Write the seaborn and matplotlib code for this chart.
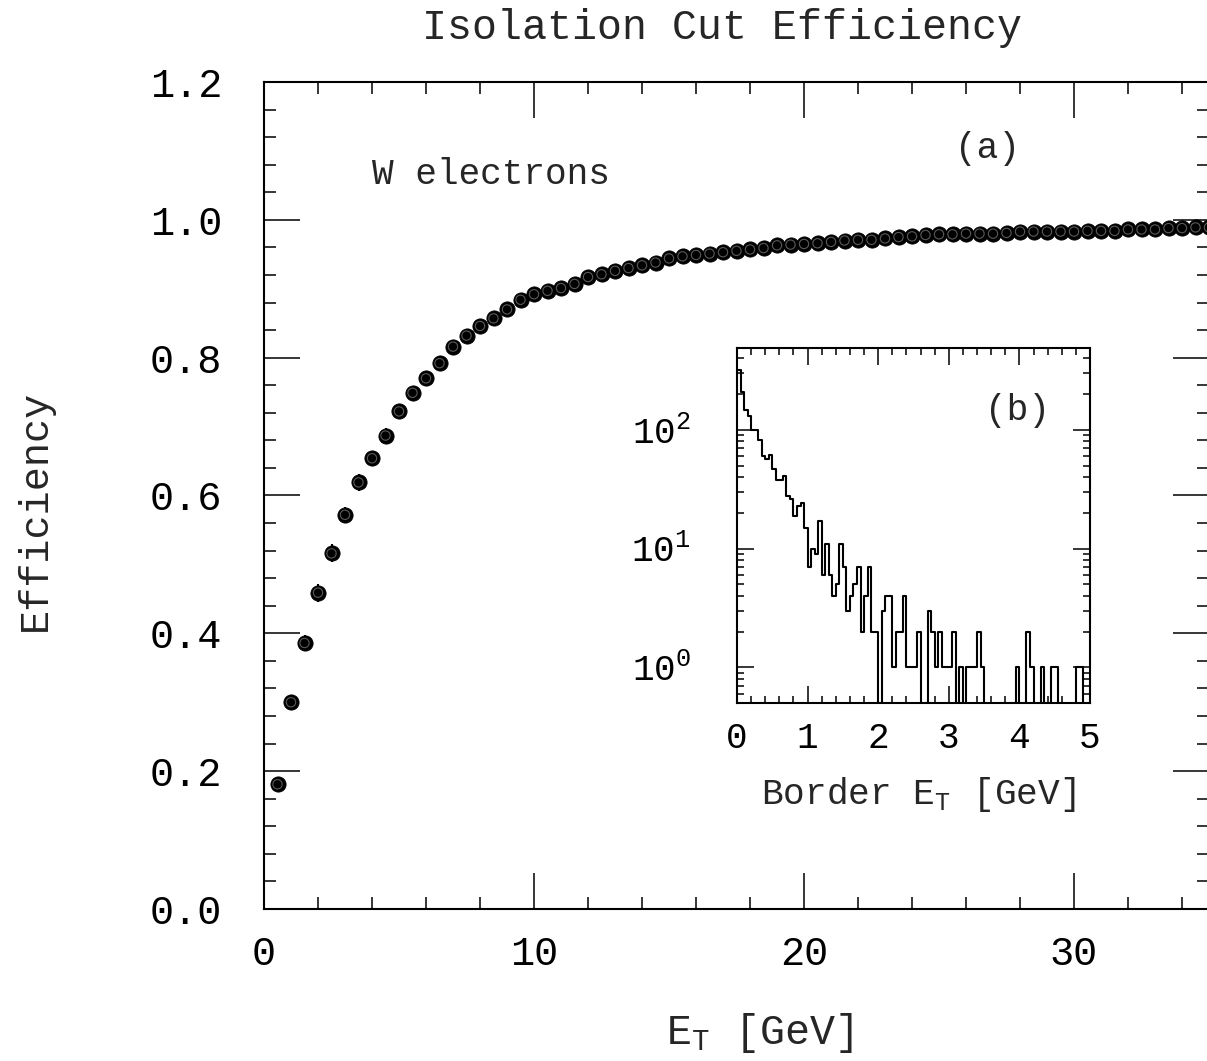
import numpy as np
import matplotlib
matplotlib.use("Agg")
import matplotlib.pyplot as plt
from matplotlib.ticker import MultipleLocator, LogLocator, LogFormatterMathtext, NullFormatter
import seaborn as sns

# ---------------- data ----------------
et = [0.5, 1.0, 1.5, 2.0, 2.5, 3.0, 3.5, 4.0, 4.5, 5.0,
      5.5, 6.0, 6.5, 7.0, 7.5, 8.0, 8.5, 9.0, 9.5, 10.0,
      10.5, 11.0, 11.5, 12.0, 12.5, 13.0, 13.5, 14.0, 14.5, 15.0,
      15.5, 16.0, 16.5, 17.0, 17.5, 18.0, 18.5, 19.0, 19.5, 20.0,
      20.5, 21.0, 21.5, 22.0, 22.5, 23.0, 23.5, 24.0, 24.5, 25.0,
      25.5, 26.0, 26.5, 27.0, 27.5, 28.0, 28.5, 29.0, 29.5, 30.0,
      30.5, 31.0, 31.5, 32.0, 32.5, 33.0, 33.5, 34.0, 34.5, 35.0]
efficiency = [0.181, 0.300, 0.386, 0.459, 0.516, 0.572, 0.619, 0.654, 0.687, 0.722,
              0.749, 0.770, 0.792, 0.816, 0.832, 0.846, 0.857, 0.870, 0.884, 0.892,
              0.897, 0.901, 0.907, 0.917, 0.921, 0.926, 0.930, 0.934, 0.938, 0.944,
              0.947, 0.949, 0.951, 0.953, 0.955, 0.957, 0.959, 0.963, 0.964, 0.965,
              0.966, 0.968, 0.970, 0.971, 0.971, 0.973, 0.975, 0.976, 0.978, 0.979,
              0.979, 0.980, 0.980, 0.980, 0.981, 0.983, 0.983, 0.983, 0.983, 0.983,
              0.984, 0.984, 0.984, 0.986, 0.986, 0.986, 0.988, 0.988, 0.989, 0.989]
eff_err = [0.010, 0.011, 0.012, 0.013, 0.013, 0.012, 0.012, 0.011, 0.011, 0.011,
           0.010, 0.010, 0.009, 0.009, 0.008, 0.008, 0.008, 0.007, 0.007, 0.007,
           0.006, 0.006, 0.006, 0.006, 0.005, 0.005, 0.005, 0.005, 0.005, 0.004,
           0.004, 0.004, 0.004, 0.004, 0.004, 0.004, 0.004, 0.003, 0.003, 0.003,
           0.003, 0.003, 0.003, 0.003, 0.003, 0.003, 0.003, 0.003, 0.003, 0.003,
           0.003, 0.003, 0.003, 0.003, 0.003, 0.003, 0.003, 0.003, 0.003, 0.003,
           0.003, 0.003, 0.003, 0.003, 0.003, 0.003, 0.003, 0.003, 0.003, 0.003]

# inset histogram: Border E_T, bins of 0.05 GeV from 0 to 5 GeV
border_edges = np.linspace(0.0, 5.0, 101)
border_counts = [317, 207, 147, 130, 100, 100, 82, 60, 57, 62,
                 47, 38, 38, 41, 28, 26, 19, 23, 24, 15,
                 7, 10, 9, 17, 6, 11, 6, 4, 5, 11,
                 7, 3, 4, 5, 7, 2, 4, 7, 2, 2,
                 0, 3, 4, 4, 1, 2, 2, 4, 1, 1,
                 1, 2, 0, 0, 3, 2, 1, 2, 1, 1,
                 1, 2, 0, 1, 0, 1, 1, 1, 2, 1,
                 0, 0, 0, 0, 0, 0, 0, 0, 0, 1,
                 0, 0, 2, 1, 0, 0, 1, 0, 0, 1,
                 1, 0, 0, 0, 0, 0, 1, 1, 0, 0]

title = "Isolation Cut Efficiency"
xlabel = "E$_\\mathregular{T}$ [GeV]"
ylabel = "Efficiency"
inset_xlabel = "Border E$_\\mathregular{T}$ [GeV]"

# ---------------- style ----------------
sns.set_style("ticks")
plt.rcParams["font.family"] = ["Liberation Mono", "DejaVu Sans"]
plt.rcParams["mathtext.fontset"] = "custom"
plt.rcParams["mathtext.rm"] = "Liberation Mono"
plt.rcParams["mathtext.it"] = "Liberation Mono"
plt.rcParams["mathtext.bf"] = "Liberation Mono"
plt.rcParams["axes.linewidth"] = 1.5

W, H = 1207, 1061
fig = plt.figure(figsize=(W / 100, H / 100), dpi=100)
fig.patch.set_facecolor("white")


def fx(px):
    return px / W


def fy(py):
    return 1 - py / H


# main axes
ax = fig.add_axes([fx(264), fy(909), (1209 - 264) / W, (909 - 82) / H])
ax.set_facecolor("white")
ax.errorbar(et, efficiency, yerr=eff_err, fmt="none", ecolor="black",
            elinewidth=1.5, capsize=0, zorder=2)
sns.scatterplot(x=et, y=efficiency, ax=ax, s=120, color="black",
                edgecolor="black", linewidth=0.6, zorder=3, legend=False)
sns.scatterplot(x=et, y=efficiency, ax=ax, s=45, facecolors="none",
                edgecolor="#5a5a5a", linewidth=0.8, zorder=4, legend=False)

ax.set_xlim(0, 35)
ax.set_ylim(0, 1.2)
ax.xaxis.set_major_locator(MultipleLocator(10))
ax.xaxis.set_minor_locator(MultipleLocator(2))
ax.yaxis.set_major_locator(MultipleLocator(0.2))
ax.yaxis.set_minor_locator(MultipleLocator(0.04))
ax.yaxis.set_major_formatter(matplotlib.ticker.FormatStrFormatter("%.1f"))
ax.tick_params(which="both", direction="in", top=True, right=True,
               width=1.1, colors="black")
ax.tick_params(which="major", length=26, labelsize=29)
ax.tick_params(axis="y", which="major", pad=30)
ax.tick_params(axis="x", which="major", pad=19)
ax.tick_params(which="minor", length=8.6)
ax.set_xlabel("")
ax.set_ylabel("")
for s in ax.spines.values():
    s.set_linewidth(1.5)
    s.set_color("black")

fig.text(fx(722), fy(28), title, ha="center", va="center", fontsize=30)
fig.text(fx(760), fy(1033), xlabel, ha="center", va="center", fontsize=30)
fig.text(fx(35), fy(510), ylabel, ha="center", va="center", fontsize=29,
         rotation=90)
fig.text(fx(491), fy(175), "W electrons", ha="center", va="center", fontsize=26)
fig.text(fx(987), fy(148), "(a)", ha="center", va="center", fontsize=26)

# inset axes
ax2 = fig.add_axes([fx(737), fy(703), (1090 - 737) / W, (703 - 348) / H])
ax2.set_facecolor("white")
step_y = [c if c > 0 else 1e-3 for c in border_counts] + \
         [border_counts[-1] if border_counts[-1] > 0 else 1e-3]
sns.lineplot(x=border_edges, y=step_y, ax=ax2, drawstyle="steps-post",
             color="black", linewidth=1.5, estimator=None, sort=False,
             legend=False)
ax2.set_yscale("log")
ax2.set_xlim(0, 5)
ax2.set_ylim(0.5, 490)
ax2.xaxis.set_major_locator(MultipleLocator(1))
ax2.xaxis.set_minor_locator(MultipleLocator(0.2))
ax2.yaxis.set_major_locator(LogLocator(base=10, numticks=10))
ax2.yaxis.set_minor_locator(LogLocator(base=10, subs=np.arange(2, 10), numticks=20))
ax2.yaxis.set_major_formatter(LogFormatterMathtext())
ax2.yaxis.set_minor_formatter(NullFormatter())
ax2.tick_params(which="both", direction="in", top=True, right=True,
                width=1.1, colors="black")
ax2.tick_params(which="major", length=12, labelsize=26)
ax2.tick_params(axis="y", which="major", pad=33)
ax2.tick_params(axis="x", which="major", pad=13)
ax2.tick_params(which="minor", length=5)
ax2.set_xlabel("")
ax2.set_ylabel("")
for s in ax2.spines.values():
    s.set_linewidth(1.5)
    s.set_color("black")

fig.text(fx(918), fy(795), inset_xlabel, ha="center", va="center", fontsize=26)
fig.text(fx(1017), fy(410), "(b)", ha="center", va="center", fontsize=26)

fig.savefig("out.png", dpi=100, facecolor="white")
